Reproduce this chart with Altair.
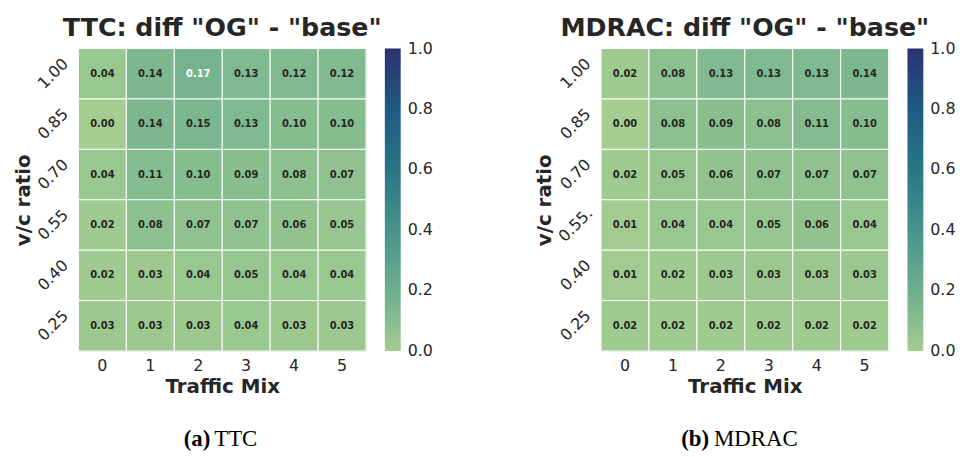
import altair as alt
import pandas as pd

traffic_mix = [0, 1, 2, 3, 4, 5]
vc_ratio = ["1.00", "0.85", "0.70", "0.55", "0.40", "0.25"]
vc_ratio_b = ["1.00", "0.85", "0.70", "0.55.", "0.40", "0.25"]

ttc_diff = [
    [0.04, 0.14, 0.17, 0.13, 0.12, 0.12],
    [0.00, 0.14, 0.15, 0.13, 0.10, 0.10],
    [0.04, 0.11, 0.10, 0.09, 0.08, 0.07],
    [0.02, 0.08, 0.07, 0.07, 0.06, 0.05],
    [0.02, 0.03, 0.04, 0.05, 0.04, 0.04],
    [0.03, 0.03, 0.03, 0.04, 0.03, 0.03],
]
mdrac_diff = [
    [0.02, 0.08, 0.13, 0.13, 0.13, 0.14],
    [0.00, 0.08, 0.09, 0.08, 0.11, 0.10],
    [0.02, 0.05, 0.06, 0.07, 0.07, 0.07],
    [0.01, 0.04, 0.04, 0.05, 0.06, 0.04],
    [0.01, 0.02, 0.03, 0.03, 0.03, 0.03],
    [0.02, 0.02, 0.02, 0.02, 0.02, 0.02],
]

titles = ['TTC: diff "OG" - "base"', 'MDRAC: diff "OG" - "base"']
caption_tags = ["(a)", "(b)"]
caption_names = ["TTC", "MDRAC"]
# end ticks nudged inside so their labels centre on the bar ends
colorbar_ticks = [0.0005, 0.2, 0.4, 0.6, 0.8, 0.9995]

crest_domain = [0.0, 0.1, 0.2, 0.4, 0.6, 0.8, 1.0]
crest_range = ["#a5cd90", "#86bd8f", "#6dae8e", "#47938b", "#297786", "#1f5a83", "#2c3172"]

W, H = 290, 305
FONT = "DejaVu Sans"
TXT = "#262626"


def panel(values, ylabels, title, tag, name, tag_dx, name_dx):
    rows = []
    for i, lab in enumerate(ylabels):
        for j, tm in enumerate(traffic_mix):
            rows.append({"tm": tm, "vc": lab, "v": values[i][j]})
    df = pd.DataFrame(rows)
    base = alt.Chart(df)
    rect = base.mark_rect(stroke="white", strokeWidth=1).encode(
        x=alt.X("tm:O", sort=traffic_mix, title="Traffic Mix",
                axis=alt.Axis(labelAngle=0, labelFontSize=16, titleFontSize=20,
                              titleFontWeight="bold", labelColor=TXT, titleColor=TXT,
                              domain=False, ticks=False, labelPadding=7, titlePadding=3,
                              labelFont=FONT, titleFont=FONT)),
        y=alt.Y("vc:O", sort=ylabels, title="v/c ratio",
                axis=alt.Axis(labelAngle=-45, labelFontSize=16, titleFontSize=20,
                              titleFontWeight="bold", labelColor=TXT, titleColor=TXT,
                              domain=False, ticks=False, labelPadding=26, titlePadding=1,
                              labelAlign="center", labelBaseline="middle",
                              labelFont=FONT, titleFont=FONT)),
        color=alt.Color("v:Q", title=None,
                        scale=alt.Scale(domain=crest_domain, range=crest_range, interpolate="rgb"),
                        legend=alt.Legend(orient="right", gradientLength=H, gradientThickness=16,
                                          values=colorbar_ticks, format=".1f", labelFontSize=16,
                                          labelColor=TXT, labelFont=FONT, offset=19,
                                          gradientStrokeWidth=0, labelOffset=7,
                                          labelOverlap=False)),
    )
    text = base.mark_text(fontSize=10, fontWeight="bold", font=FONT).encode(
        x=alt.X("tm:O", sort=traffic_mix),
        y=alt.Y("vc:O", sort=ylabels),
        text=alt.Text("v:Q", format=".2f"),
        color=alt.condition(alt.datum.v > 0.165, alt.value("white"), alt.value(TXT)),
    )
    cap_df = pd.DataFrame({"tag": [tag], "name": [name]})
    cap_tag = alt.Chart(cap_df).mark_text(
        font="Liberation Serif", fontSize=23, fontWeight="bold", align="right",
        baseline="alphabetic", color="black"
    ).encode(text="tag:N", x=alt.value(W / 2 + tag_dx), y=alt.value(401))
    cap_name = alt.Chart(cap_df).mark_text(
        font="Liberation Serif", fontSize=23, align="left",
        baseline="alphabetic", color="black"
    ).encode(text="name:N", x=alt.value(W / 2 + name_dx), y=alt.value(401))
    return alt.layer(rect, text, cap_tag, cap_name).properties(
        width=W, height=H,
        title=alt.TitleParams(title, fontSize=25.5, fontWeight="bold", font=FONT,
                              color=TXT, anchor="middle", offset=7),
    )


left = panel(ttc_diff, vc_ratio, titles[0], caption_tags[0], caption_names[0], -12, -8)
right = panel(mdrac_diff, vc_ratio_b, titles[1], caption_tags[1], caption_names[1], -36, -31)

chart = alt.hconcat(left, right, spacing=100).resolve_scale(color="shared").resolve_legend(
    color="independent"
).configure_view(stroke=None).configure(background="white")

chart.save("out.html", embed_options={"renderer": "svg", "actions": False})
